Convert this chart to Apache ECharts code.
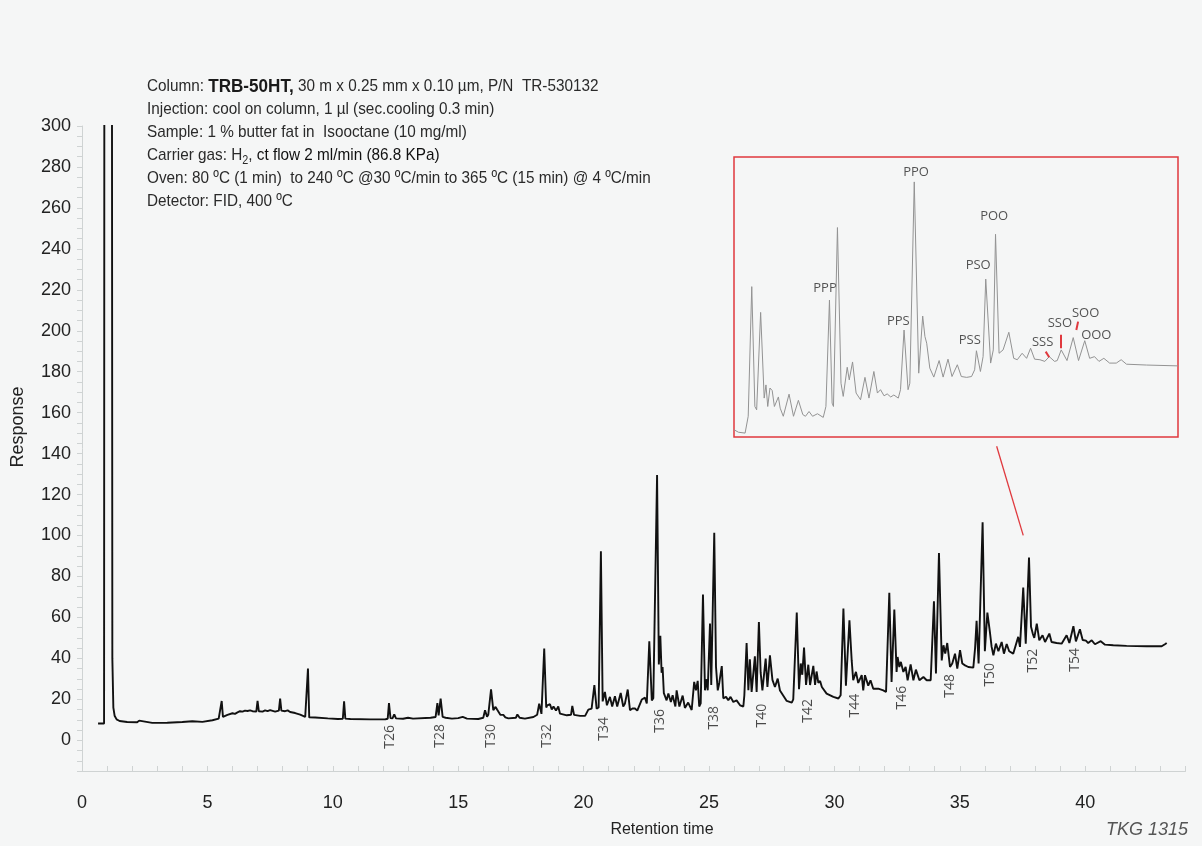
<!DOCTYPE html>
<html><head><meta charset="utf-8">
<script src="https://cdn.jsdelivr.net/npm/echarts@6/dist/echarts.min.js"></script>
<style>html,body{margin:0;padding:0;background:#f5f6f6}#c{width:1202px;height:846px}</style>
</head><body><div id="c"></div>
<script>
// ---- main chromatogram: [retention time (min), response] ----
const traceEarly = [[0.64,8.2],[0.88,8.2],[0.9,600],[1.18,600],[1.21,40],[1.25,16],[1.3,12],[1.38,10.2],[1.5,9.4],[1.8,8.9],[2.2,8.8],[2.28,9.6],[2.35,8.8],[2.8,8.5],[3.4,8.6],[4.0,8.9],[4.4,9.3],[4.8,9.0],[5.2,9.8],[5.45,10.6],[5.52,11],[5.57,19.2],[5.62,11.4],[5.8,12.4],[6.0,13.2],[6.1,12.9],[6.2,13.6],[6.3,14.2],[6.4,14.0],[6.5,14.5],[6.6,14.3],[6.7,14.6],[6.8,14.2],[6.95,14.0],[7.0,19.2],[7.05,14.2],[7.2,14.0],[7.3,14.6],[7.4,14.2],[7.5,14.7],[7.56,14.3],[7.7,14.0],[7.85,14.5],[7.9,20.4],[7.95,14.5],[8.1,14.2],[8.2,14.6],[8.3,13.8],[8.5,13.3],[8.7,12.5],[8.9,11.4],[8.97,11.2],[9.01,35.0],[9.06,11.2],[9.3,11.1],[9.8,10.7],[10.2,10.4],[10.4,10.5],[10.45,19.0],[10.5,10.6],[10.7,10.4],[11.5,10.2],[12.1,10.3],[12.19,10.5],[12.24,18.2],[12.3,10.8],[12.38,10.7],[12.45,12.7],[12.52,10.7],[12.8,10.5],[13.0,11.0],[13.2,10.6],[13.9,11.0],[14.1,11.4],[14.17,18.2],[14.22,12.2],[14.3,20.4],[14.38,11.4],[14.5,11.0],[14.75,10.6],[15.0,10.8],[15.18,11.4],[15.35,10.6],[15.8,10.4],[16.0,11],[16.07,14.7],[16.15,11.5],[16.2,12.5],[16.31,24.9],[16.4,14.7],[16.49,16.3],[16.55,15.0],[16.6,15.5],[16.68,12.5],[16.8,12.4],[16.88,11.2],[17.0,10.7],[17.3,11.0],[17.36,12.6],[17.45,11.0],[17.66,10.6],[18.0,11.4]];
const traceMid = [[18.15,12.5],[18.23,17.9],[18.32,12.9],[18.37,13.5],[18.43,44.8],[18.51,16],[18.55,17.1],[18.66,17.6],[18.73,15],[18.8,16.5],[18.9,14.5],[18.99,16.5],[19.06,13],[19.13,12.2],[19.33,12.2],[19.5,12.5],[19.55,16.8],[19.62,12.4],[19.86,11.9],[20.06,11.9],[20.19,15.0],[20.32,15.5],[20.43,26.9],[20.52,15.5],[20.6,16],[20.69,92.3],[20.76,19],[20.79,19.5],[20.85,23.6],[20.93,17.1],[20.99,17.1],[21.05,21.2],[21.14,16.5],[21.25,21.5],[21.34,16.5],[21.48,23.1],[21.58,16.5],[21.65,18],[21.76,24.8],[21.85,14.7],[21.95,15.5],[22.05,15.5],[22.14,14.5],[22.32,19.9],[22.45,20.8],[22.52,18],[22.62,48.4],[22.72,19.5],[22.78,20.5],[22.93,129.5],[23.0,37],[23.06,51],[23.11,33],[23.15,35.8],[23.2,23],[23.31,19.5],[23.38,22.8],[23.48,18.7],[23.55,22],[23.66,16.5],[23.71,24.4],[23.82,16.5],[23.95,21.8],[24.04,15.8],[24.17,18.4],[24.31,14.8],[24.41,28.5],[24.48,24.4],[24.55,29],[24.61,16.5],[24.67,18],[24.76,71.2],[24.84,24.4],[24.91,29.8],[24.95,24.4],[25.04,57],[25.09,27],[25.21,101.3],[25.28,35.8],[25.35,24.4],[25.41,28],[25.51,36.2],[25.57,20.5],[25.68,21.2],[25.77,19.5],[25.86,21.2],[25.97,18.7],[26.1,19.5],[26.24,17.1],[26.37,16.5],[26.41,22],[26.5,47.5],[26.57,24.4],[26.63,39.6],[26.7,23.6],[26.83,41],[26.9,23.6],[26.99,57.8],[27.06,33],[27.13,24.4],[27.26,39.9],[27.33,26],[27.43,41.5],[27.53,29.5],[27.63,26],[27.74,30.1],[27.83,24.3],[28.1,19.2],[28.3,18.4],[28.36,20],[28.5,62.4],[28.59,24.9],[28.66,37.5],[28.72,32],[28.79,45.3],[28.87,27],[28.96,36.9],[29.03,27],[29.16,36.3],[29.23,27],[29.29,33.6],[29.36,28],[29.43,29],[29.5,26],[29.69,22.8],[29.96,21.2],[30.16,20.4],[30.25,22]];
const traceLate = [[30.36,64.3],[30.46,26.7],[30.6,58.6],[30.69,39],[30.75,29.3],[30.86,33.4],[30.95,28],[31.02,28.5],[31.09,31.8],[31.15,24.4],[31.22,31.8],[31.35,26.7],[31.44,29.3],[31.55,25.2],[31.75,25.2],[31.95,24.4],[32.06,23.6],[32.19,72],[32.28,28.5],[32.39,63.8],[32.48,33.4],[32.52,40.7],[32.59,35.8],[32.65,38.3],[32.75,33.4],[32.84,35.8],[32.92,29.3],[33.04,37.1],[33.15,29.3],[33.25,34.5],[33.39,29.3],[33.55,30.9],[33.68,29.3],[33.84,29.3],[33.97,67.9],[34.05,32.6],[34.17,91.5],[34.28,39],[34.35,46.4],[34.42,42.3],[34.5,47.5],[34.61,35.8],[34.7,37.5],[34.81,42.3],[34.9,35],[35.01,44],[35.1,37.5],[35.21,36.6],[35.34,35.8],[35.54,35.5],[35.61,45],[35.67,58.3],[35.75,37.5],[35.91,106.5],[36.0,43.5],[36.1,62.4],[36.2,52.9],[36.27,45.6],[36.34,41.5],[36.44,47.2],[36.54,43.5],[36.67,48],[36.76,42.3],[36.87,47],[36.97,43.5],[37.13,42.3],[37.33,50.5],[37.4,45.6],[37.53,74.6],[37.63,47.2],[37.76,89.2],[37.84,55.4],[37.91,52.1],[37.97,50],[38.07,57],[38.17,48.8],[38.3,51.3],[38.4,48],[38.57,52.1],[38.66,48],[38.86,47.5],[39.06,47.2],[39.26,51.3],[39.37,47.5],[39.53,55.7],[39.63,48.3],[39.79,54.2],[39.9,49],[40.03,48.7],[40.12,47.5],[40.26,48.8],[40.39,46.9],[40.62,48.4],[40.79,46.7],[41.12,46.4],[41.65,46.1],[42.45,45.9],[43.05,45.9],[43.18,46.9],[43.25,47.5]];

// ---- homologue (carbon number) labels ----
const homologueNames = ['T26','T28','T30','T32','T34','T36','T38','T40','T42','T44','T46','T48','T50','T52','T54'];
const homologueTime  = [12.28,14.27,16.31,18.54,20.81,23.05,25.20,27.11,28.95,30.82,32.69,34.61,36.20,37.92,39.59];
const homologueResp  = [1.7,2.2,2.2,2.2,5.6,9.5,11.0,12.0,14.4,16.9,20.8,26.6,32.0,38.9,39.3];

// ---- inset (relative units 0..100) ----
const insetTrace = [[0,2.6],[1.0,1.7],[2.5,1.4],[3.2,7.4],[4.0,53.7],[4.7,10.9],[5.1,9.7],[6.0,44.5],[6.8,13.9],[7.2,18.6],[7.6,10.9],[8.1,17.5],[8.6,16.6],[9.1,10.9],[10.0,14.3],[10.4,10.3],[11.1,7.4],[12.4,15.3],[13.4,7.4],[14.5,13.1],[15.5,8.0],[16.1,7.4],[16.9,9.1],[17.7,7.4],[18.8,8.3],[20.1,7.0],[20.7,10.9],[21.5,48.9],[22.1,12.1],[22.4,10.9],[23.3,74.8],[24.1,19.2],[24.6,14.5],[25.5,24.9],[25.96,20.4],[26.7,26.8],[27.5,15.7],[28.5,13.3],[29.5,21.3],[30.4,13.9],[31.5,23.4],[32.3,15.7],[33.0,16.9],[33.8,14.7],[34.5,15.4],[35.3,14.3],[36.0,15.0],[37.0,13.9],[37.5,16.9],[38.3,38.2],[39.2,16.9],[39.6,19.2],[40.6,91.1],[41.6,22.8],[42.5,43.2],[43.0,35.9],[43.4,33.5],[44.1,24.6],[45.0,21.4],[46.2,27.3],[47.1,21.4],[48.2,27.8],[49.1,21.6],[50.3,25.8],[51.2,21.6],[52.4,21.3],[53.5,21.6],[54.2,24.0],[54.6,30.8],[55.5,23.4],[56.1,28.7],[56.7,56.4],[57.8,26.4],[58.4,31.1],[58.9,72.4],[59.7,29.9],[60.6,31.1],[61.9,37.4],[63.0,28.1],[63.8,27.6],[64.9,29.9],[65.9,28.1],[66.8,31.7],[67.7,27.8],[68.9,27.6],[70.0,27.0],[71.0,28.7],[72.2,27.0],[72.8,27.3],[73.7,31.1],[75.0,27.3],[76.4,35.5],[77.6,27.3],[79.0,34.4],[80.1,28.1],[81.2,28.7],[82.2,27.0],[83.3,28.1],[84.6,26.4],[86.1,26.4],[87.2,27.6],[88.4,26.0],[92.9,25.7],[100,25.4]];
const tagNames = ['PPP','PPS','PPO','PSS','PSO','POO','SSS','SSO','SOO','OOO'];
const tagX     = [20.5,37.0,41.0,53.1,55.0,58.6,69.5,73.4,79.2,81.6];
const tagY     = [53.1,41.2,94.7,34.7,61.4,79.0,33.8,40.6,44.2,36.5];
const tagTicks = [[[70.2,30.5],[71.0,28.5]],[[73.7,36.5],[73.7,31.7]],[[77.5,41.2],[77.1,38.2]]];
const zoomConnector = [[36.47,143.6],[37.53,100.1]];

// ---- axis / text content ----
const xLabelStep = 5, yLabelStep = 20;
const methodLines = [
  '{n|Column: }{b|TRB-50HT,}{n| 30 m x 0.25 mm x 0.10 µm, P/N  TR-530132}',
  '{n|Injection: cool on column, 1 µl (sec.cooling 0.3 min)}',
  '{n|Sample: 1 % butter fat in  Isooctane (10 mg/ml)}',
  '{n|Carrier gas: H}{s|2}{n|, }{m|ct flow 2 ml/min (86.8 KPa)}',
  '{n|Oven: 80 ºC (1 min)  to 240 ºC @30 ºC/min to 365 ºC (15 min) @ 4 ºC/min}',
  '{n|Detector: FID, 400 ºC}'
];

const RED = '#e0393e';
const AX = '#cfd3d3';
const SANS = "'Liberation Sans', Arial, sans-serif";
const chart = echarts.init(document.getElementById('c'));
chart.setOption({
  backgroundColor: '#f5f6f6',
  animation: false,
  grid: [
    {left: 82, right: 16.5, top: 126, bottom: 75},
    {left: 734, top: 157, width: 444, height: 280, show: true, borderColor: RED, borderWidth: 1.5, backgroundColor: 'rgba(0,0,0,0)'}
  ],
  xAxis: [
    {type: 'value', gridIndex: 0, min: 0, max: 44, interval: 1,
     axisLine: {show: true, onZero: false, lineStyle: {color: AX, width: 1}},
     axisTick: {show: true, inside: true, length: 5, lineStyle: {color: AX}},
     splitLine: {show: false},
     axisLabel: {formatter: v => (v % xLabelStep === 0 ? String(v) : ''), fontSize: 18, color: '#222', margin: 23, fontFamily: 'Liberation Sans'}},
    {type: 'value', gridIndex: 1, min: 0, max: 100, show: false}
  ],
  yAxis: [
    {type: 'value', gridIndex: 0, min: -15, max: 300, interval: 5,
     axisLine: {show: true, onZero: false, lineStyle: {color: AX, width: 1}},
     axisTick: {show: true, inside: false, length: 5, lineStyle: {color: AX}},
     splitLine: {show: false},
     axisLabel: {formatter: v => (v % yLabelStep === 0 ? String(v) : ''), fontSize: 18, color: '#222', margin: 11, fontFamily: 'Liberation Sans'}},
    {type: 'value', gridIndex: 1, min: 0, max: 100, show: false}
  ],
  graphic: [
    {type: 'text', x: 147, y: 75, scaleX: 0.9, silent: true,
     style: {text: methodLines.join('\n'), fill: '#2a2a2a', font: "17px " + SANS, lineHeight: 23, verticalAlign: 'top', textVerticalAlign: 'top',
       rich: {
         n: {fontSize: 17, fontFamily: SANS, lineHeight: 23, fill: '#2a2a2a'},
         m: {fontSize: 17, fontFamily: SANS, lineHeight: 23, fill: '#111', fontWeight: 500},
         b: {fontSize: 19, fontFamily: SANS, fontWeight: 'bold', lineHeight: 23, fill: '#1a1a1a'},
         s: {fontSize: 12, fontFamily: SANS, lineHeight: 12, verticalAlign: 'bottom', fill: '#2a2a2a'}
       }}},
    {type: 'text', x: 18, y: 427, rotation: Math.PI / 2, silent: true,
     style: {text: 'Response', font: "18px 'Liberation Sans'", fill: '#222', textAlign: 'center', textVerticalAlign: 'middle', align: 'center', verticalAlign: 'middle'}},
    {type: 'text', x: 662, y: 830, silent: true,
     style: {text: 'Retention time', font: "16px 'Liberation Sans'", fill: '#222', textAlign: 'center', textVerticalAlign: 'middle', align: 'center', verticalAlign: 'middle'}},
    {type: 'text', x: 1188, y: 830, silent: true,
     style: {text: 'TKG 1315', font: "italic 18px 'Liberation Sans'", fill: '#555', textAlign: 'right', textVerticalAlign: 'middle', align: 'right', verticalAlign: 'middle'}}
  ],
  series: [
    {type: 'line', xAxisIndex: 0, yAxisIndex: 0, data: traceEarly.concat(traceMid, traceLate),
     showSymbol: false, symbol: 'none', clip: true, lineStyle: {color: '#111', width: 1.9}, z: 3,
     markLine: {silent: true, symbol: ['none', 'none'], label: {show: false}, animation: false,
       lineStyle: {color: RED, width: 1.3, type: 'solid'},
       data: [[{coord: zoomConnector[0]}, {coord: zoomConnector[1]}]]}},
    {type: 'scatter', xAxisIndex: 0, yAxisIndex: 0, symbolSize: 1, itemStyle: {color: 'rgba(0,0,0,0)'}, silent: true,
     data: homologueNames.map((n, i) => ({name: n, value: [homologueTime[i], homologueResp[i]]})),
     label: {show: true, position: 'inside', rotate: 90, formatter: '{b}', fontSize: 14, color: '#1e1e1e', fontFamily: "'Open Sans'"}},
    {type: 'line', xAxisIndex: 1, yAxisIndex: 1, data: insetTrace, showSymbol: false, symbol: 'none', clip: true,
     lineStyle: {color: '#939393', width: 1},
     markLine: {silent: true, symbol: ['none', 'none'], label: {show: false}, animation: false,
       lineStyle: {color: RED, width: 2, type: 'solid'},
       data: tagTicks.map(t => [{coord: t[0]}, {coord: t[1]}])}},
    {type: 'scatter', xAxisIndex: 1, yAxisIndex: 1, symbolSize: 1, itemStyle: {color: 'rgba(0,0,0,0)'}, silent: true,
     data: tagNames.map((n, i) => ({name: n, value: [tagX[i], tagY[i]]})),
     label: {show: true, position: 'inside', formatter: '{b}', fontSize: 13, color: '#2b2b2b', fontFamily: "'Open Sans'"}}
  ]
});
</script></body></html>
